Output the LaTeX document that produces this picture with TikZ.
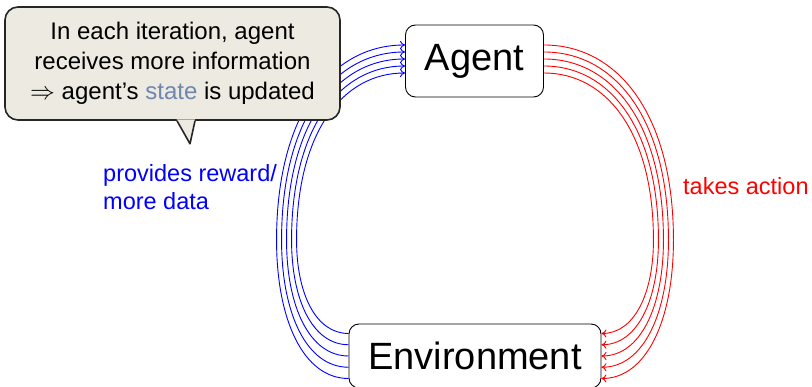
\documentclass[tikz,border=0pt]{standalone}
\usepackage{fontspec}
\setmainfont{Liberation Sans}
\usetikzlibrary{calc,arrows.meta}
\definecolor{notefill}{RGB}{236,234,225}
\definecolor{statecol}{RGB}{110,135,175}
\begin{document}
\begin{tikzpicture}[x=1pt,y=-1pt,
  box/.style={draw, rounded corners=10pt, line width=0.9pt, fill=white,
    font=\fontsize{38}{44}\selectfont, inner sep=0pt},
  notebox/.style={draw=black!85, fill=notefill, line width=1.6pt, rounded corners=13pt,
    align=center, font=\fontsize{24}{30}\selectfont, inner sep=0pt},
  noteline/.style={draw=black!85, line width=1.6pt, line join=round},
  bluelink/.style={blue, line width=0.9pt, -{To[length=5pt,width=8pt]}},
  redlink/.style={red, line width=0.9pt, -{To[length=5pt,width=8pt]}},
  lbl/.style={font=\fontsize{23.5}{28.3}\selectfont, inner sep=0pt}]
\clip (0,0) rectangle (812,387);
\node[box, minimum width=138pt, minimum height=72pt] (agent) at (474.5,61) {Agent};
\node[box, minimum width=252pt, minimum height=64pt] (env) at (475,356) {Environment};
\foreach \i in {0,...,4}{
  \pgfmathsetmacro{\ea}{22.5-11.25*\i}
  \pgfmathsetmacro{\aa}{-16+7*\i}
  \pgfmathsetmacro{\lx}{72-5*\i}
  \pgfmathsetmacro{\ka}{0.625*(72-5*\i)}
  \pgfmathsetmacro{\kb}{0.58*(138.5-11.25*\i)}
  \pgfmathsetmacro{\kc}{0.64*(195-7*\i)}
  \pgfmathsetmacro{\kd}{0.58*(128.5-5*\i)}
  \draw[bluelink] ($(env.west)+(0,\ea)$) .. controls +(-\ka,0) and +(0,\kb) ..
    ($(env.west)+(-\lx,-116)$) .. controls +(0,-\kc) and +(-\kd,0) ..
    ($(agent.west)+(0,\aa)$);
  \draw[redlink] ($(agent.east)+(0,\aa)$) .. controls +(\kd,0) and +(0,-\kc) ..
    ($(env.east)+(\lx,-116)$) .. controls +(0,\kb) and +(\ka,0) ..
    ($(env.east)+(0,\ea)$);
}
\node[notebox, minimum width=335pt, minimum height=113pt] (note) at (172.5,63.5)
  {In each iteration, agent\\receives more information\\$\Rightarrow$ agent’s \textcolor{statecol}{state} is updated};
\fill[notefill] ($(note.south)+(4,-1.5)$) -- ($(note.south)+(17.5,23)$) -- ($(note.south)+(22.5,-1.5)$) -- cycle;
\draw[noteline] ($(note.south)+(4.5,0)$) -- ($(note.south)+(17.5,23)$) -- ($(note.south)+(22.5,0)$);
\node[lbl, blue, align=left, anchor=west] (reward) at (103,187.4) {provides reward/\\more data};
\node[lbl, red, anchor=base west] (action) at (683,195) {takes action};
\end{tikzpicture}
\end{document}
